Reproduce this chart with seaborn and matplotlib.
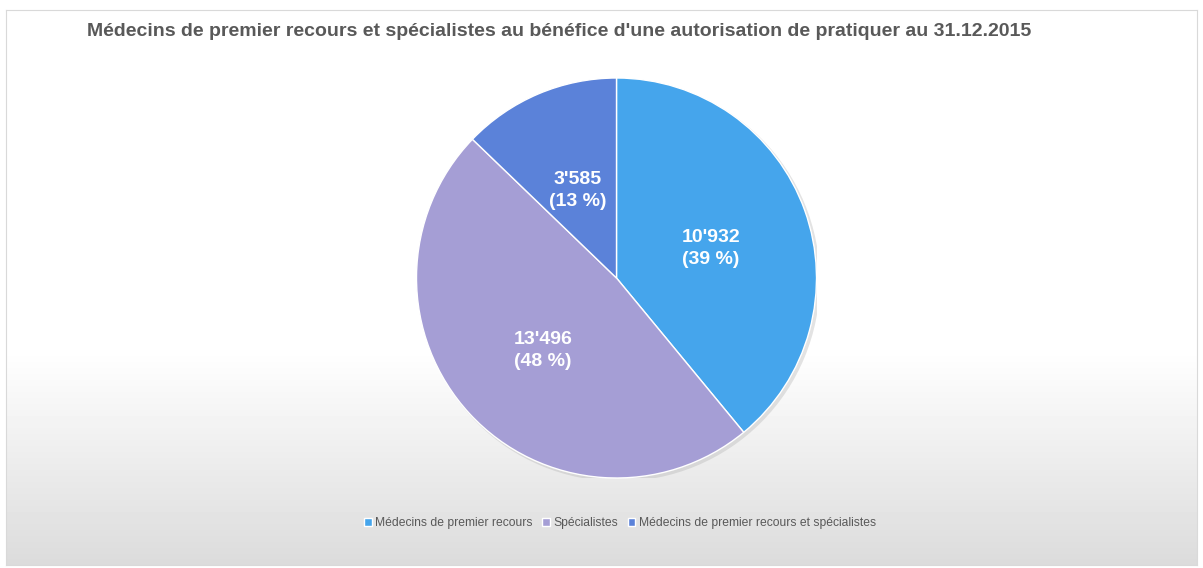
import numpy as np
import matplotlib
matplotlib.use("Agg")
import matplotlib.pyplot as plt
import seaborn as sns

sns.set_style("white")
plt.rcParams["font.family"] = ["Liberation Sans", "DejaVu Sans"]

# data
categories = ["Médecins de premier recours", "Spécialistes",
              "Médecins de premier recours et spécialistes"]
counts = [10932, 13496, 3585]
colors = ["#45A5EC", "#A59ED5", "#5B82D9"]
title = "Médecins de premier recours et spécialistes au bénéfice d'une autorisation de pratiquer au 31.12.2015"

total = sum(counts)
fig = plt.figure(figsize=(12.03, 5.68), dpi=100)
fig.patch.set_facecolor("white")

# background panel with gradient (white -> light grey towards bottom)
bg = fig.add_axes([6 / 1203, 3 / 568, 1191 / 1203, 555 / 568])
grad = np.concatenate([np.ones(340), np.linspace(1.0, 0.86, 215)])
bg.imshow(grad[:, None], aspect="auto", cmap="gray", vmin=0, vmax=1,
          extent=[0, 1, 0, 1], origin="upper")
bg.set_xticks([]); bg.set_yticks([])
for s in bg.spines.values():
    s.set_color("#d9d9d9"); s.set_linewidth(0.8)
bg.set_zorder(0)

ax = fig.add_axes([416 / 1203, 1 - 478 / 568, 401 / 1203, 400 / 568])
ax.set_zorder(1)
ax.patch.set_alpha(0)

# soft shadow
shadow = plt.Circle((0.012, -0.012), 1.005, color="#b0b0b0", alpha=0.35, lw=0)
ax.add_patch(shadow)


def fmt(p):
    n = int(round(p * total / 100))
    return f"{n:,}".replace(",", "'") + f"\n({p:.0f} %)"


wedges, texts, autotexts = ax.pie(
    counts, colors=colors, startangle=90, counterclock=False,
    autopct=fmt, pctdistance=0.5, radius=1,
    wedgeprops={"edgecolor": "white", "linewidth": 1})
for t in autotexts:
    t.set_color("white"); t.set_fontsize(14); t.set_fontweight("bold")
    t.set_linespacing(1.4)
    t.set_verticalalignment("center_baseline")
ax.set_xlim(-1, 1); ax.set_ylim(-1, 1)
ax.set_aspect("equal")
ax.axis("off")

fig.text(87 / 1203, 1 - 32 / 568, title, ha="left", va="center",
         fontsize=14, fontweight="bold", color="#595959")

fig.legend(wedges, categories, loc="center", bbox_to_anchor=(620 / 1203, 1 - 523 / 568),
           ncol=3, frameon=False, fontsize=8.7, labelcolor="#595959",
           handlelength=0.6, handleheight=0.6, handletextpad=0.3, columnspacing=0.8)

fig.savefig("out.png", dpi=100)
